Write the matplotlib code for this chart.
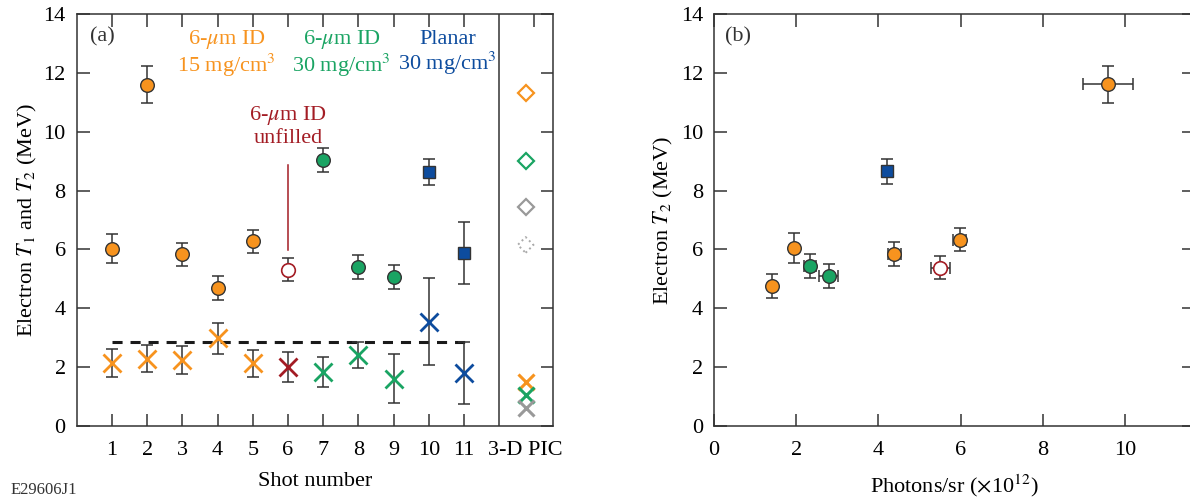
import numpy as np
import matplotlib
matplotlib.use("Agg")
import matplotlib.pyplot as plt

plt.rcParams['font.family'] = ['Liberation Serif', 'DejaVu Serif']
plt.rcParams['mathtext.fontset'] = 'stix'
FS = 16
plt.rcParams['font.size'] = FS

ORANGE = '#F7931E'
GREEN = '#1AA463'
BLUE = '#0D4C9E'
RED = '#A31C24'
GRAY = '#999999'
EDGE = '#333333'

# ---- panel (a): T2 (circles/squares) and T1 (crosses) vs shot number
shots = np.arange(1, 12)
t2 = [6.02, 11.6, 5.83, 4.69, 6.27, 5.31, 9.04, 5.40, 5.06, 8.63, 5.88]
t2_err = [0.5, 0.63, 0.4, 0.4, 0.38, 0.4, 0.4, 0.4, 0.4, 0.44, 1.05]
t1 = [2.14, 2.28, 2.23, 2.97, 2.12, 2.0, 1.83, 2.4, 1.6, 3.53, 1.8]
t1_err = [0.47, 0.47, 0.47, 0.52, 0.47, 0.52, 0.52, 0.45, 0.83, 1.48, 1.05]
shot_group = ['o15', 'o15', 'o15', 'o15', 'o15', 'unf', 'g30', 'g30', 'g30', 'planar', 'planar']

t1_mean = 2.85
t1_mean_range = [1, 11.15]

pic_x = 12.75
pic_t2 = [11.31, 9.0, 7.45]
pic_t2_colors = [ORANGE, GREEN, GRAY]
pic_t2_dotted = 6.15
pic_t1 = [1.48, 1.04, 0.59]
pic_t1_colors = [ORANGE, GREEN, GRAY]

unfilled_leader = [5.98, 8.87]

# ---- panel (b): T2 vs photons/sr
ph_x = [1.42, 1.94, 2.33, 2.79, 4.22, 4.39, 5.51, 5.98, 9.58]
ph_xerr = [0.0, 0.0, 0.15, 0.23, 0.13, 0.16, 0.22, 0.16, 0.61]
ph_y = [4.75, 6.04, 5.44, 5.09, 8.65, 5.84, 5.37, 6.33, 11.61]
ph_yerr = [0.4, 0.5, 0.4, 0.4, 0.44, 0.4, 0.39, 0.38, 0.63]
ph_group = ['o15', 'o15', 'g30', 'g30', 'planar', 'o15', 'unf', 'o15', 'o15']

style = {
    'o15': dict(marker='o', mfc=ORANGE, mec=EDGE, ms=9.8, mew=1.0),
    'g30': dict(marker='o', mfc=GREEN, mec=EDGE, ms=9.8, mew=1.0),
    'planar': dict(marker='s', mfc=BLUE, mec=EDGE, ms=9.2, mew=1.0),
    'unf': dict(marker='o', mfc='white', mec=RED, ms=9.8, mew=1.2),
}
cross_color = {'o15': ORANGE, 'g30': GREEN, 'planar': BLUE, 'unf': RED}

eb = dict(ecolor=EDGE, elinewidth=1.1, capsize=4.5, capthick=1.1, linestyle='none')

fig = plt.figure(figsize=(11.9, 4.99), dpi=100)
ax1 = fig.add_axes([0.0645, 0.147, 0.4, 0.8244])
ax2 = fig.add_axes([0.6, 0.147, 0.4034, 0.8244])

for ax in (ax1, ax2):
    for s in ax.spines.values():
        s.set_color(EDGE)
        s.set_linewidth(1.1)
    ax.tick_params(direction='in', length=9, width=1.1, color=EDGE,
                   top=True, right=True, labelsize=FS)
    ax.tick_params(axis='x', pad=11)
    ax.tick_params(axis='y', pad=8)
    ax.set_ylim(0, 14)
    ax.set_yticks(np.arange(0, 15, 2))

# panel (a)
ax1.plot(t1_mean_range, [t1_mean, t1_mean], color='#1a1a1a', lw=2.2,
         ls=(0, (3.3, 2.6)), zorder=1)
for i in range(len(shots)):
    g = shot_group[i]
    ax1.errorbar(shots[i], t1[i], yerr=t1_err[i], zorder=2, **eb)
    ax1.plot(shots[i], t1[i], marker='x', ms=13, mew=2.0,
             color=cross_color[g], ls='none', zorder=3)
    ax1.errorbar(shots[i], t2[i], yerr=t2_err[i], zorder=2, **eb)
    ax1.plot(shots[i], t2[i], ls='none', zorder=3, **style[g])

for y, c in zip(pic_t2, pic_t2_colors):
    ax1.plot(pic_x, y, marker='D', ms=8, mfc='white', mec=c, mew=1.6, ls='none')
ax1.scatter([pic_x], [pic_t2_dotted], marker='D', s=64, facecolors='white',
            edgecolors='#aaaaaa', linewidths=1.4, linestyles=':')
for y, c in zip(pic_t1, pic_t1_colors):
    ax1.plot(pic_x, y, marker='x', ms=12, mew=2.2, color=c, ls='none')

ax1.axvline(12, color=EDGE, lw=1.1)
ax1.plot([6, 6], unfilled_leader, color=RED, lw=1.1)

ax1.set_xlim(0, 13.52)
ax1.set_xticks(list(shots) + [pic_x])
ax1.set_xticklabels([str(s) for s in shots] + ['3-D PIC'])
last = ax1.xaxis.get_major_ticks()[-1]
last.tick1line.set_visible(False)
last.tick2line.set_visible(False)
ax1.set_xticks([13], minor=True)
ax1.tick_params(axis='x', which='minor', direction='in', length=9, width=1.1,
                color=EDGE, bottom=False, top=True)

ax1.set_xlabel('Shot number', fontsize=FS, labelpad=9)
ax1.set_ylabel('Electron $T_1$ and $T_2$ (MeV)', fontsize=FS, labelpad=3)

ax1.text(0.38, 13.22, '(a)', ha='left', va='center', fontsize=FS, color=EDGE)
ax1.text(4.25, 12.66, '6-$\\mu$m ID\n15 mg/cm$^3$', ha='center', va='center',
         color=ORANGE, fontsize=FS, linespacing=1.05)
ax1.text(7.52, 12.66, '6-$\\mu$m ID\n30 mg/cm$^3$', ha='center', va='center',
         color=GREEN, fontsize=FS, linespacing=1.05)
ax1.text(10.54, 12.66, 'Planar\n30 mg/cm$^3$', ha='center', va='center',
         color=BLUE, fontsize=FS, linespacing=1.05)
ax1.text(6.0, 10.2, '6-$\\mu$m ID\nunfilled', ha='center', va='center',
         color=RED, fontsize=FS, linespacing=1.15)

# panel (b)
for i in range(len(ph_x)):
    g = ph_group[i]
    xe = ph_xerr[i] if ph_xerr[i] > 0 else None
    ax2.errorbar(ph_x[i], ph_y[i], xerr=xe, yerr=ph_yerr[i], zorder=2, **eb)
    ax2.plot(ph_x[i], ph_y[i], ls='none', zorder=3, **style[g])

ax2.set_xlim(0, 11.68)
ax2.set_xticks(np.arange(0, 11, 2))
ax2.set_xlabel('Photons/sr ($\\times$10$^{12}$)', fontsize=FS, labelpad=9)
ax2.set_ylabel('Electron $T_2$ (MeV)', fontsize=FS, labelpad=4)
ax2.text(0.27, 13.22, '(b)', ha='left', va='center', fontsize=FS, color=EDGE)

fig.text(0.009, 0.01, 'E29606J1', fontsize=12, color=EDGE)

fig.savefig('out.png', dpi=100)
